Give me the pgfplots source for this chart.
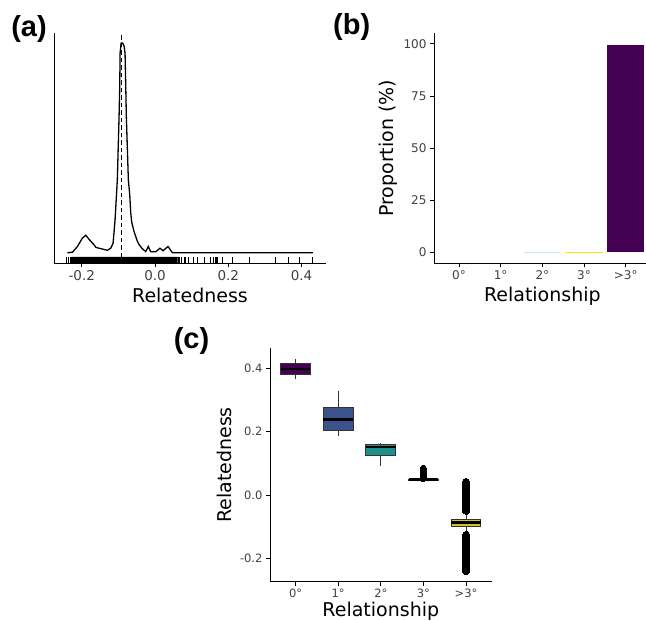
\documentclass[border=0pt]{standalone}
\usepackage{fontspec}
\setmainfont{DejaVu Sans}
\newfontfamily\tagfont{Liberation Sans}
\usepackage{pgfplots}
\pgfplotsset{compat=1.18}

\definecolor{vir1}{HTML}{440154}
\definecolor{vir2}{HTML}{3B528B}
\definecolor{vir3}{HTML}{21908C}
\definecolor{vir4}{HTML}{5DC863}
\definecolor{vir5}{HTML}{D2BF2A}
\definecolor{grey20}{HTML}{333333}

\pgfplotsset{
  panel/.style={
    scale only axis, anchor=south west,
    axis x line*=bottom, axis y line*=left,
    axis line style={-, line width=0.9pt, black},
    tick align=outside, major tick length=4pt,
    tick style={line width=0.9pt, black},
    tick label style={font=\fontsize{12}{14}\selectfont, text=black!75},
    label style={font=\fontsize{19}{22}\selectfont},
    /pgf/number format/assume math mode=true,
  },
  whisk/.style={grey20, line width=1pt},
  box/.style={draw=grey20, line width=1pt},
  med/.style={black, line width=2.8pt},
  outl/.style={only marks, mark=*, mark size=3.5pt, black, mark options={line width=0pt}},
}

\begin{document}
\begin{tikzpicture}
\useasboundingbox (0,0) rectangle (646pt,621pt);

% (a) density of relatedness with rug
\begin{axis}[panel,
  at={(54.3pt,357.7pt)}, width=271.4pt, height=230.6pt,
  xmin=-0.275, xmax=0.466, ymin=-5, ymax=105,
  ytick=\empty,
  xtick={-0.2,0,0.2,0.4}, xticklabels={-0.2,0.0,0.2,0.4},
  tick label style={font=\fontsize{13.5}{15}\selectfont},
  xlabel={Relatedness},
  xlabel style={at={(axis description cs:0.5,-0.172)}, anchor=base},
]
% rug: the dense run of values, then single values
\addplot[fill=black, draw=black, line width=0.4pt] coordinates {
  (-0.229,-5) (0.062,-5) (0.062,-1.9) (-0.229,-1.9) (-0.229,-5)};
\addplot[only marks, mark=|, mark size=3.2pt, line width=0.8pt, black] coordinates {
  (-0.241,-3.5) (-0.236,-3.5) (-0.232,-3.5)
  (0.067,-3.5) (0.073,-3.5) (0.079,-3.5) (0.084,-3.5) (0.091,-3.5)
  (0.106,-3.5) (0.115,-3.5) (0.134,-3.5) (0.152,-3.5) (0.159,-3.5)
  (0.164,-3.5) (0.167,-3.5) (0.170,-3.5) (0.184,-3.5) (0.211,-3.5)
  (0.259,-3.5) (0.329,-3.5) (0.363,-3.5) (0.395,-3.5) (0.431,-3.5)
};
\addplot[black, line width=1.3pt] coordinates {
  (-0.2392,0) (-0.2255,0.3) (-0.2119,3) (-0.1983,7) (-0.189,8.4) (-0.18,6.4)
  (-0.1663,3.8) (-0.1617,2.6) (-0.1437,1.8) (-0.13,1.2) (-0.1208,2.2)
  (-0.1145,4.6) (-0.1091,15.7) (-0.1055,26.8) (-0.1029,34.8) (-0.0982,64.9)
  (-0.0963,79.2) (-0.0954,95.1) (-0.0927,100) (-0.0886,100.1) (-0.0845,98.6)
  (-0.0818,95.1) (-0.0799,79.2) (-0.0783,64.9) (-0.0728,34.8) (-0.069,27.6)
  (-0.0663,19) (-0.0635,14.5) (-0.057,10) (-0.048,5.4) (-0.0436,4)
  (-0.035,2) (-0.0254,0.6) (-0.0183,3) (-0.0117,0.5) (0.0019,0.5)
  (0.0136,2.2) (0.0218,1) (0.0355,3) (0.0472,0.1) (0.0565,0) (0.431,0)
};
\addplot[black, dash pattern=on 4.5pt off 3pt, line width=0.9pt]
  coordinates {(-0.092,-2) (-0.092,105)};
\end{axis}

% (b) proportion per relationship
\begin{axis}[panel,
  at={(434pt,357.7pt)}, width=216.7pt, height=230pt,
  xmin=0.4, xmax=5.6, ymin=-5.2, ymax=105.1,
  xtick={1,2,3,4,5}, xticklabels={0°,1°,2°,3°,>3°},
  ytick={0,25,50,75,100},
  xlabel={Relationship}, ylabel={Proportion (\%)},
  xlabel style={at={(axis description cs:0.5,-0.165)}, anchor=base},
  ylabel style={at={(axis description cs:-0.185,0.5)}, anchor=base},
  ybar, bar width=37.5pt,
]
\addplot[fill=vir4!30, draw=none, bar shift=0pt] coordinates {(3,0.35)};
\addplot[fill=yellow!90!orange, draw=none, bar shift=0pt] coordinates {(4,0.45)};
\addplot[fill=vir1, draw=none, bar shift=0pt] coordinates {(5,99.43)};
\end{axis}

% (c) relatedness by relationship
\begin{axis}[panel,
  at={(270pt,39.3pt)}, width=221.6pt, height=233.4pt,
  xmin=0.4, xmax=5.6, ymin=-0.2735, ymax=0.4635,
  xtick={1,2,3,4,5}, xticklabels={0°,1°,2°,3°,>3°},
  ytick={-0.2,0,0.2,0.4}, yticklabels={-0.2,0.0,0.2,0.4},
  tick label style={font=\fontsize{11.5}{13}\selectfont},
  xlabel={Relationship}, ylabel={Relatedness},
  xlabel style={at={(axis description cs:0.5,-0.147)}, anchor=base},
  ylabel style={at={(axis description cs:-0.173,0.5)}, anchor=base},
]
% 0 degree
\addplot[whisk] coordinates {(1,0.366) (1,0.429)};
\addplot[box, fill=vir1] coordinates {(0.65,0.381) (1.35,0.381) (1.35,0.416) (0.65,0.416)} -- cycle;
\addplot[med] coordinates {(0.65,0.398) (1.35,0.398)};
% 1 degree
\addplot[whisk] coordinates {(2,0.186) (2,0.329)};
\addplot[box, fill=vir2] coordinates {(1.65,0.205) (2.35,0.205) (2.35,0.277) (1.65,0.277)} -- cycle;
\addplot[med] coordinates {(1.65,0.238) (2.35,0.238)};
% 2 degree
\addplot[whisk] coordinates {(3,0.092) (3,0.166)};
\addplot[box, fill=vir3] coordinates {(2.65,0.126) (3.35,0.126) (3.35,0.161) (2.65,0.161)} -- cycle;
\addplot[med] coordinates {(2.65,0.152) (3.35,0.152)};
% 3 degree
\addplot[box, fill=vir4] coordinates {(3.65,0.047) (4.35,0.047) (4.35,0.049) (3.65,0.049)} -- cycle;
\addplot[med] coordinates {(3.65,0.048) (4.35,0.048)};
\addplot[outl, mark size=3pt] coordinates {(4,0.052) (4,0.055) (4,0.058) (4,0.061)
  (4,0.064) (4,0.067) (4,0.070) (4,0.073) (4,0.076) (4,0.079) (4,0.082) (4,0.085)};
% more than 3 degrees
\addplot[whisk] coordinates {(5,-0.123) (5,-0.052)};
\addplot[box, fill=vir5] coordinates {(4.65,-0.098) (5.35,-0.098) (5.35,-0.076) (4.65,-0.076)} -- cycle;
\addplot[med] coordinates {(4.65,-0.0865) (5.35,-0.0865)};
\addplot[outl] coordinates {
  (5,-0.050) (5,-0.046) (5,-0.042) (5,-0.038) (5,-0.034) (5,-0.030) (5,-0.026)
  (5,-0.022) (5,-0.018) (5,-0.014) (5,-0.010) (5,-0.006) (5,-0.002) (5,0.002)
  (5,0.006) (5,0.010) (5,0.014) (5,0.018) (5,0.022) (5,0.026) (5,0.030)
  (5,0.034) (5,0.038) (5,0.042)
  (5,-0.125) (5,-0.129) (5,-0.133) (5,-0.137) (5,-0.141) (5,-0.145) (5,-0.149)
  (5,-0.153) (5,-0.157) (5,-0.161) (5,-0.165) (5,-0.169) (5,-0.173) (5,-0.177)
  (5,-0.181) (5,-0.185) (5,-0.189) (5,-0.193) (5,-0.197) (5,-0.201) (5,-0.205)
  (5,-0.209) (5,-0.213) (5,-0.217) (5,-0.221) (5,-0.225) (5,-0.229) (5,-0.233)
  (5,-0.237) (5,-0.240)};
\end{axis}

\node[font=\tagfont\bfseries\fontsize{29}{32}\selectfont] at (29pt,592pt) {(a)};
\node[font=\tagfont\bfseries\fontsize{29}{32}\selectfont] at (351.7pt,593.5pt) {(b)};
\node[font=\tagfont\bfseries\fontsize{29}{32}\selectfont] at (191.5pt,280pt) {(c)};
\end{tikzpicture}
\end{document}
